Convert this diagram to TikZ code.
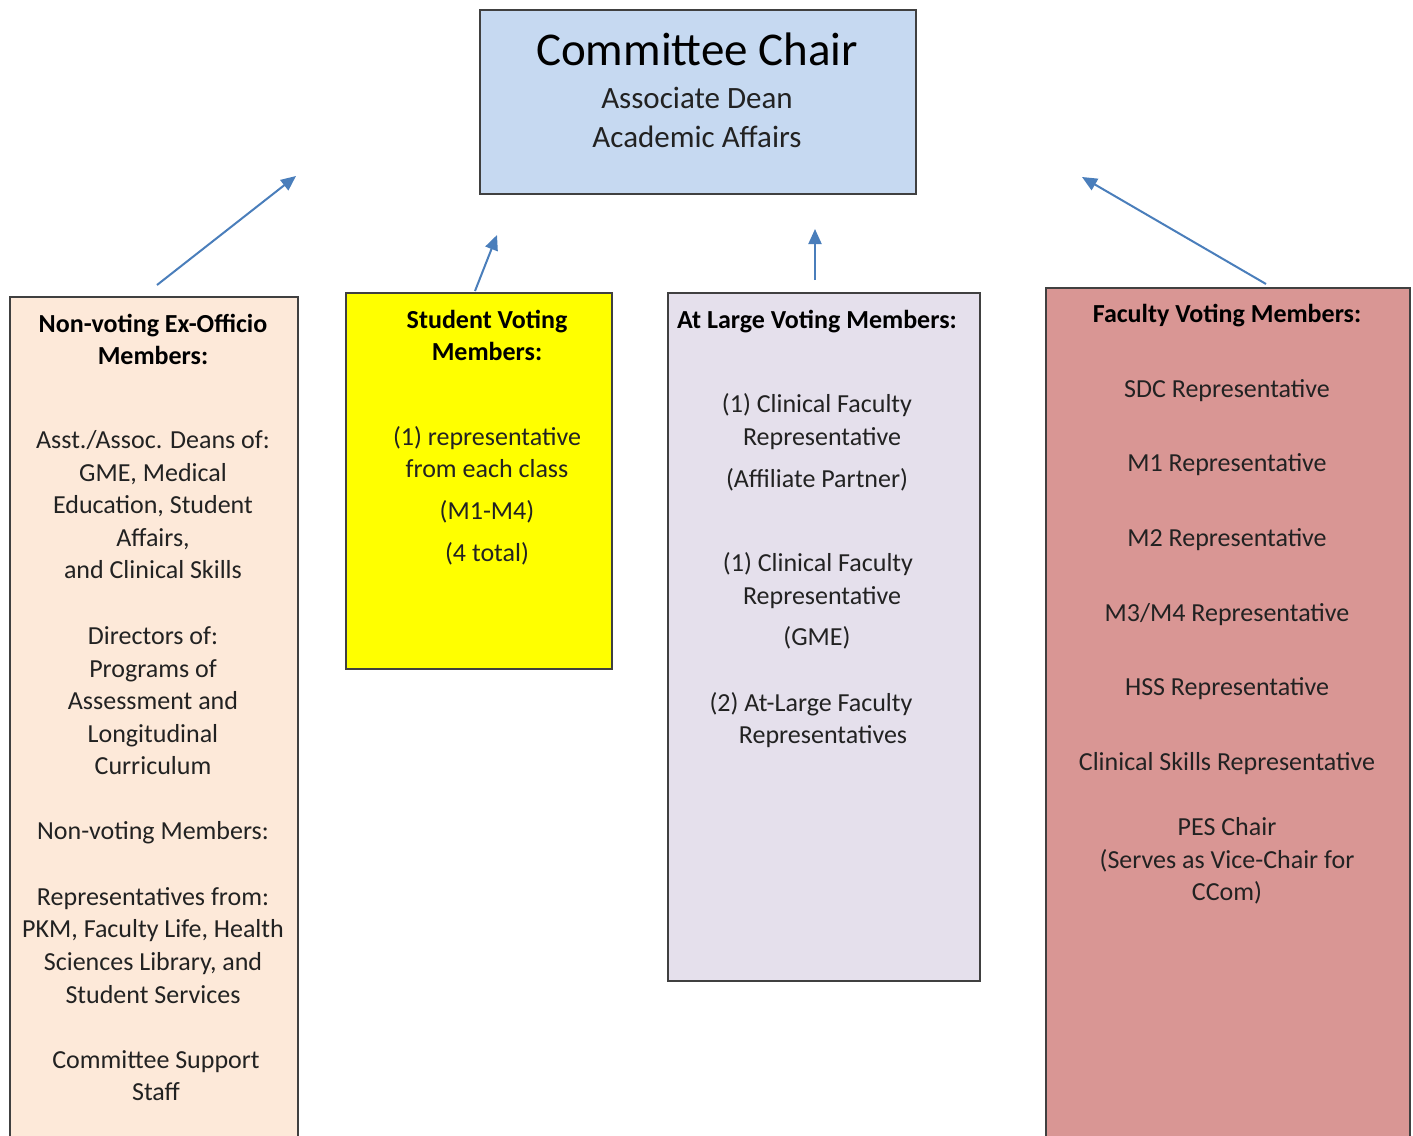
\documentclass[tikz,border=0pt]{standalone}
\usepackage{fontspec}
\setmainfont{Carlito}
\usetikzlibrary{arrows.meta}
\definecolor{chairblue}{HTML}{C6D9F1}
\definecolor{peach}{HTML}{FDE9D9}
\definecolor{brightyellow}{HTML}{FFFF00}
\definecolor{lavender}{HTML}{E5E0EC}
\definecolor{rose}{HTML}{D99694}
\definecolor{arrowblue}{HTML}{4A7EBB}
\definecolor{edgegrey}{HTML}{404040}
\definecolor{ink}{HTML}{222222}
\begin{document}
\begin{tikzpicture}[x=1pt,y=-1pt,
  panel/.style={draw=edgegrey, line width=1.5pt, inner sep=0pt, anchor=north west},
  head/.style={anchor=base, inner sep=0pt, text=black, font=\bfseries\fontsize{26}{32}\selectfont},
  body/.style={anchor=base, inner sep=0pt, text=ink, font=\fontsize{26}{32}\selectfont},
  link/.style={draw=arrowblue, line width=2pt, -{Triangle[length=15pt,width=13pt]}}
]
\useasboundingbox (0,0) rectangle (1413,1135);

% boxes
\node[panel, fill=chairblue, minimum width=436pt, minimum height=184pt] (chair) at (479,9) {};
\node[panel, fill=peach, minimum width=288pt, minimum height=900pt] (exoff) at (9,296) {};
\node[panel, fill=brightyellow, minimum width=266pt, minimum height=376pt] (student) at (345,292) {};
\node[panel, fill=lavender, minimum width=312pt, minimum height=688pt] (atlarge) at (667,292) {};
\node[panel, fill=rose, minimum width=364pt, minimum height=900pt] (faculty) at (1045,287) {};

% chair text
\node[anchor=base, inner sep=0pt, text=black, font=\fontsize{47}{56}\selectfont] (c1) at (697,65) {Committee Chair};
\node[anchor=base, inner sep=0pt, text=ink, font=\fontsize{31}{38}\selectfont] (c2) at (697,108) {Associate Dean};
\node[anchor=base, inner sep=0pt, text=ink, font=\fontsize{31}{38}\selectfont] (c3) at (697,147) {Academic Affairs};

% arrows
\coordinate (a1s) at (157,285); \coordinate (a1e) at (296,176);
\coordinate (a2s) at (475,291); \coordinate (a2e) at (497,235);
\coordinate (a3s) at (815,280); \coordinate (a3e) at (815,229);
\coordinate (a4s) at (1266,284); \coordinate (a4e) at (1082,177);
\draw[link] (a1s) -- (a1e);
\draw[link] (a2s) -- (a2e);
\draw[link] (a3s) -- (a3e);
\draw[link] (a4s) -- (a4e);

% ex-officio
\node[head] (eh1) at (153,332) {Non-voting Ex-Officio};
\node[head] (eh2) at (153,364) {Members:};
\foreach \yy/\tt [count=\i] in {448/{Asst./Assoc. Deans of:}, 481/{GME, Medical}, 513/{Education, Student}, 546/{Affairs,}, 578/{and Clinical Skills}, 644/{Directors of:}, 677/{Programs of}, 709/{Assessment and}, 742/{Longitudinal}, 774/{Curriculum}, 839/{Non-voting Members:}, 905/{Representatives from:}, 937/{PKM, Faculty Life, Health}, 970/{Sciences Library, and}, 1003/{Student Services}}
  \node[body] (e\i) at (153,\yy) {\tt};
\node[body] (es1) at (156,1068) {Committee Support};
\node[body] (es2) at (156,1100) {Staff};

% student
\node[head] (sh1) at (487,328) {Student Voting};
\node[head] (sh2) at (487,360) {Members:};
\foreach \yy/\tt [count=\i] in {445/{(1) representative}, 477/{from each class}, 519/{(M1-M4)}, 561/{(4 total)}}
  \node[body] (s\i) at (487,\yy) {\tt};

% at large
\node[head] (ah) at (817,328) {At Large Voting Members:};
\foreach \xx/\yy/\tt [count=\i] in {817/412/{(1) Clinical Faculty}, 822/445/{Representative}, 817/487/{(Affiliate Partner)}, 818/571/{(1) Clinical Faculty}, 822/604/{Representative}, 817/645/{(GME)}, 811/711/{(2) At-Large Faculty}, 823/743/{Representatives}}
  \node[body] (al\i) at (\xx,\yy) {\tt};

% faculty
\node[head] (fh) at (1227,322) {Faculty Voting Members:};
\foreach \yy/\tt [count=\i] in {397/{SDC Representative}, 471/{M1 Representative}, 546/{M2 Representative}, 621/{M3/M4 Representative}, 695/{HSS Representative}, 770/{Clinical Skills Representative}, 835/{PES Chair}, 868/{(Serves as Vice-Chair for}, 900/{CCom)}}
  \node[body] (f\i) at (1227,\yy) {\tt};
\end{tikzpicture}
\end{document}
